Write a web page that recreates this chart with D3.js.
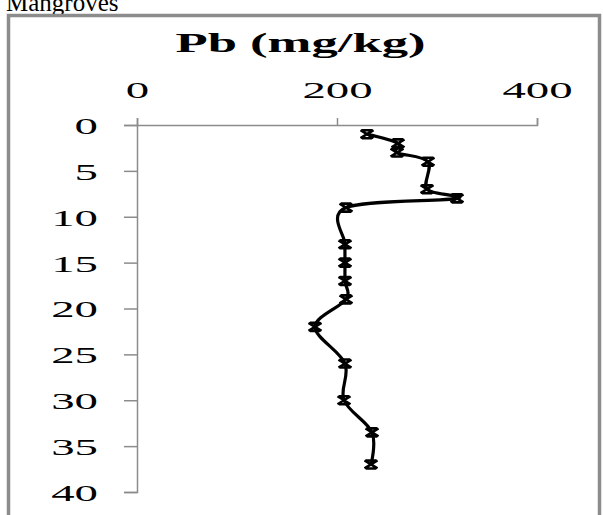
<!DOCTYPE html>
<html>
<head>
<meta charset="utf-8">
<script src="https://cdn.jsdelivr.net/npm/d3@7"></script>
<style>
  html, body { margin: 0; padding: 0; background: #fff; }
  svg { display: block; }
</style>
</head>
<body>
<svg id="chart" width="603" height="515"></svg>
<script>
// ---- data ----
const depths = [1, 2, 3, 4, 7, 8, 9, 13, 15, 17, 19, 22, 26, 30, 33.5, 37];
const pbValues = [230, 261, 260, 291, 290, 320, 209, 208, 208, 208, 209, 178, 208, 207, 235, 234];
const xTicks = [0, 200, 400];
const yTicks = [0, 5, 10, 15, 20, 25, 30, 35, 40];
const titleText = "Pb (mg/kg)";
const captionText = "Mangroves";

// ---- layout ----
const SX = 1.95; // horizontal stretch of the original picture
const svg = d3.select("#chart");
const x = d3.scaleLinear().domain([0, 400]).range([137, 537]);
const y = d3.scaleLinear().domain([0, 40]).range([125, 492]);
const axisColor = "#8c8c8c";
const serif = "'Liberation Serif', 'Times New Roman', serif";

// caption above frame (partially cut, as in the original)
svg.append("text")
  .attr("x", 6).attr("y", 11)
  .attr("font-family", serif).attr("font-size", 25)
  .attr("fill", "#000")
  .text(captionText);

// frame
svg.append("rect")
  .attr("x", 8.5).attr("y", 15.5)
  .attr("width", 591).attr("height", 540)
  .attr("fill", "none")
  .attr("stroke", axisColor)
  .attr("stroke-width", 3.5);

// title
svg.append("text")
  .attr("transform", `translate(300.5,52) scale(${SX},1)`)
  .attr("text-anchor", "middle")
  .attr("font-family", serif).attr("font-size", 27).attr("font-weight", "bold")
  .attr("fill", "#000")
  .text(titleText);

// x axis (top)
const gx = svg.append("g")
  .attr("transform", `translate(0,${y(0)})`)
  .call(d3.axisTop(x).tickValues(xTicks).tickSize(7).tickPadding(20).tickFormat(d3.format("d")));
gx.selectAll("path, line").attr("stroke", axisColor).attr("stroke-width", 1.5);
gx.selectAll("text")
  .attr("font-family", serif).attr("font-size", 24).attr("fill", "#000")
  .each(function () {
    const t = d3.select(this);
    const yy = +t.attr("y");
    t.attr("y", null).attr("dy", null)
     .attr("transform", `translate(0,${yy}) scale(${SX},1)`);
  });

// y axis (left)
const gy = svg.append("g")
  .attr("transform", `translate(${x(0)},0)`)
  .call(d3.axisLeft(y).tickValues(yTicks).tickSize(13).tickPadding(26).tickFormat(d3.format("d")));
gy.selectAll("path, line").attr("stroke", axisColor).attr("stroke-width", 1.5);
gy.selectAll("text")
  .attr("font-family", serif).attr("font-size", 24).attr("fill", "#000")
  .each(function () {
    const t = d3.select(this);
    const xx = +t.attr("x");
    t.attr("x", null)
     .attr("dy", "0.35em")
     .attr("transform", `translate(${xx},0) scale(${SX},1)`);
  });

// data line (smoothed)
const pts = depths.map((d, i) => ({ depth: d, pb: pbValues[i] }));
const line = d3.line()
  .x(d => x(d.pb))
  .y(d => y(d.depth))
  .curve(d3.curveCardinal.tension(0));
svg.append("path")
  .datum(pts)
  .attr("d", line)
  .attr("fill", "none")
  .attr("stroke", "#000")
  .attr("stroke-width", 3.2);

// markers
svg.append("g").selectAll("path")
  .data(pts)
  .join("path")
  .attr("transform", d => `translate(${x(d.pb)},${y(d.depth)})`)
  .attr("d", "M-6.5,-4L6.5,4M-6.5,4L6.5,-4M-5,-4H5M-5,4H5")
  .attr("fill", "none")
  .attr("stroke", "#000")
  .attr("stroke-width", 2.6);
</script>
</body>
</html>
